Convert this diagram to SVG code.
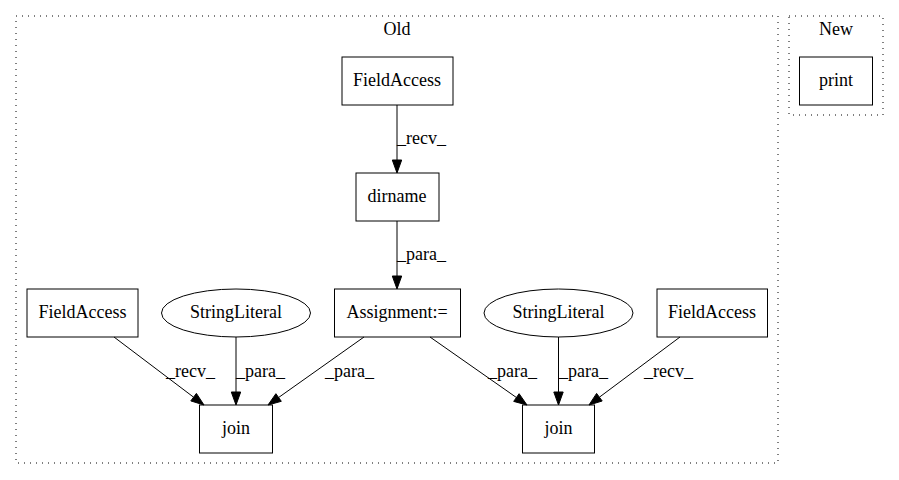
<svg xmlns="http://www.w3.org/2000/svg" width="899" height="480" viewBox="0 0 899 480">
<style>
text{font-family:"Liberation Serif","Times New Roman",Times,serif;font-size:18px;fill:#000}
.c{text-anchor:middle}
.n{fill:none;stroke:#000;stroke-width:1}
.cl{fill:none;stroke:#000;stroke-width:1;stroke-dasharray:1,5}
.e{fill:none;stroke:#000;stroke-width:1}
.a{fill:#000;stroke:#000;stroke-width:1}
</style>
<rect width="899" height="480" fill="#fff"/>
<g id="cluster_old">
<rect class="cl" x="16" y="16" width="762" height="447"/>
<text class="c" x="397" y="35">Old</text>
</g>
<g id="cluster_new">
<rect class="cl" x="789" y="16" width="94" height="99"/>
<text class="c" x="836" y="35">New</text>
</g>
<g id="print"><rect class="n" x="799.5" y="57" width="73" height="48"/><text class="c" x="836" y="86">print</text></g>
<g id="fa_top"><rect class="n" x="342" y="57" width="111" height="48"/><text class="c" x="397" y="86">FieldAccess</text></g>
<g id="dirname"><rect class="n" x="356" y="173" width="83" height="48"/><text class="c" x="397" y="202">dirname</text></g>
<g id="assign"><rect class="n" x="334.5" y="289" width="126" height="48"/><text class="c" x="397" y="318">Assignment:=</text></g>
<g id="fa_left"><rect class="n" x="27" y="289" width="111" height="48"/><text class="c" x="82.5" y="318">FieldAccess</text></g>
<g id="sl_left"><ellipse class="n" cx="236" cy="313" rx="74.5" ry="24"/><text class="c" x="236" y="318">StringLiteral</text></g>
<g id="sl_right"><ellipse class="n" cx="558.5" cy="313" rx="74.5" ry="24"/><text class="c" x="558.5" y="318">StringLiteral</text></g>
<g id="fa_right"><rect class="n" x="657" y="289" width="110.5" height="48"/><text class="c" x="712" y="318">FieldAccess</text></g>
<g id="join_left"><rect class="n" x="199.5" y="405" width="73" height="48"/><text class="c" x="236" y="434">join</text></g>
<g id="join_right"><rect class="n" x="522.5" y="405" width="72" height="48"/><text class="c" x="558.5" y="434">join</text></g>
<g id="edges">
<path class="e" d="M397,105L397,160"/><polygon class="a" points="392.3,160 397,173 401.7,160"/>
<text x="397" y="144">_recv_</text>
<path class="e" d="M397,221L397,276"/><polygon class="a" points="392.3,276 397,289 401.7,276"/>
<text x="397" y="260">_para_</text>
<path class="e" d="M114,337L193.6,397.2"/><polygon class="a" points="190.8,400.9 204,405 196.4,393.4"/>
<text x="166" y="377">_recv_</text>
<path class="e" d="M236,337L236,392"/><polygon class="a" points="231.3,392 236,405 240.7,392"/>
<text x="236" y="377">_para_</text>
<path class="e" d="M364,337L278.6,397.5"/><polygon class="a" points="275.9,393.7 268,405 281.3,401.3"/>
<text x="325" y="377">_para_</text>
<path class="e" d="M430,337L516.4,397.5"/><polygon class="a" points="513.7,401.4 527,405 519.1,393.7"/>
<text x="488" y="377">_para_</text>
<path class="e" d="M558.5,337L558.5,392"/><polygon class="a" points="553.8,392 558.5,405 563.2,392"/>
<text x="559" y="377">_para_</text>
<path class="e" d="M680,337L599.4,397.2"/><polygon class="a" points="596.6,393.4 589,405 602.2,401"/>
<text x="644" y="377">_recv_</text>
</g>
</svg>
